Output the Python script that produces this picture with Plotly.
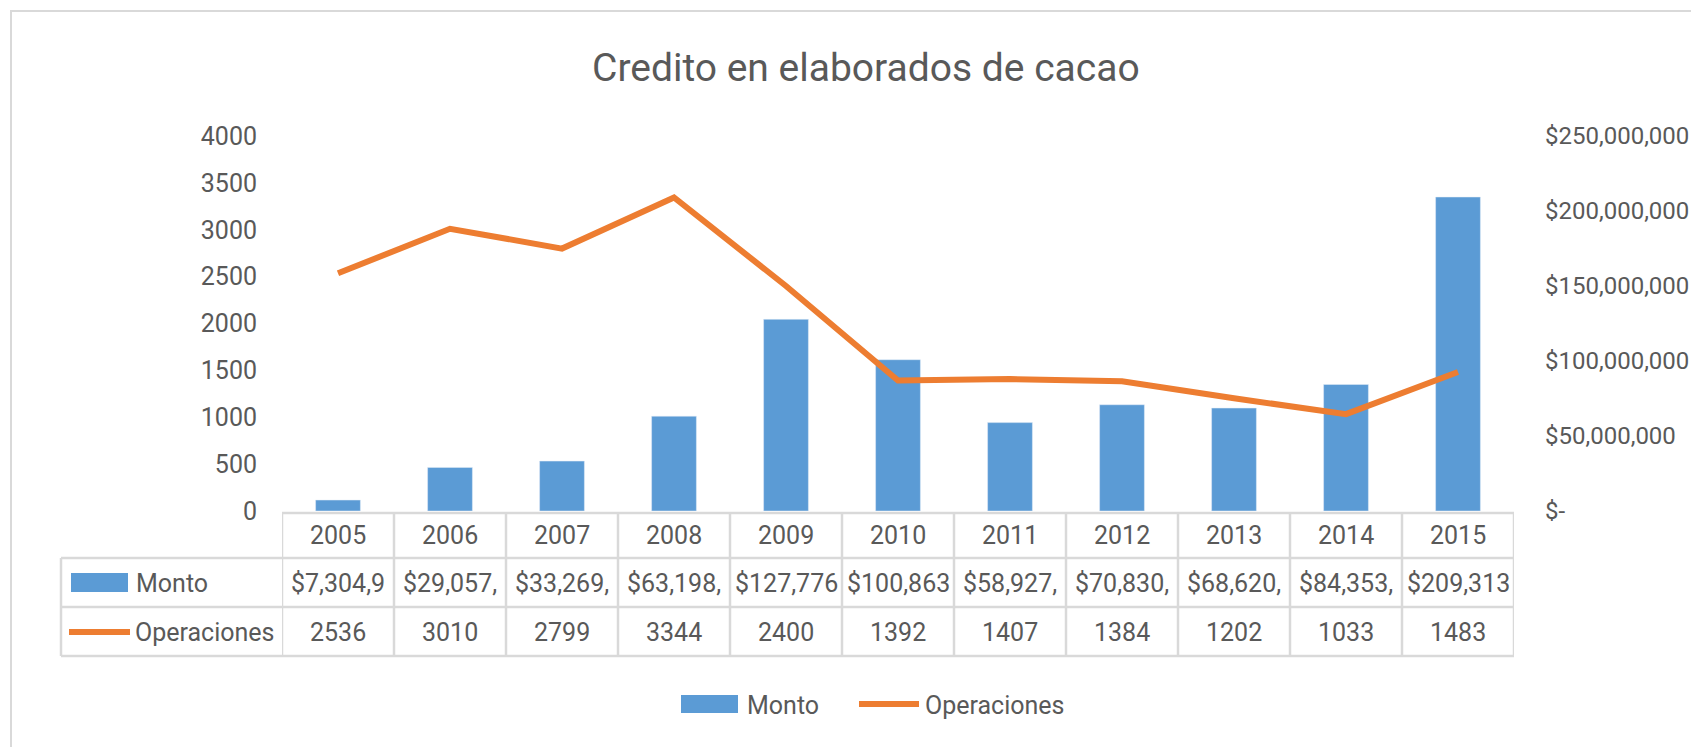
import plotly.graph_objects as go

# ---------------- data ----------------
years = ["2005", "2006", "2007", "2008", "2009", "2010", "2011", "2012", "2013", "2014", "2015"]
monto = [7304900, 29057000, 33269000, 63198000, 127776000, 100863000,
         58927000, 70830000, 68620000, 84353000, 209313000]
operaciones = [2536, 3010, 2799, 3344, 2400, 1392, 1407, 1384, 1202, 1033, 1483]
left_ticks = [0, 500, 1000, 1500, 2000, 2500, 3000, 3500, 4000]
right_ticks = [0, 50000000, 100000000, 150000000, 200000000, 250000000]
right_tick_labels = ["$-", "$50,000,000", "$100,000,000", "$150,000,000",
                     "$200,000,000", "$250,000,000"]
title = "Credito en elaborados de cacao"

# ---------------- style ----------------
OFF = 8                      # page body margin
W, H = 1699 - OFF, 747 - OFF
L, R, T, B = 282 - OFF, 1514 - OFF, 136 - OFF, 511 - OFF   # plot area (figure px)
BLUE = "#5B9BD5"
ORANGE = "#ED7D31"
TXT = "#595959"
GRID = "#D9D9D9"
FONT = "Roboto, sans-serif"
FS = 25


def px(x):
    """page x pixel -> paper coordinate"""
    return (x - OFF - L) / (R - L)


def py(y):
    """page y pixel -> paper coordinate"""
    return (B - (y - OFF)) / (B - T)


def txt(**kw):
    d = dict(showarrow=False, yanchor="middle",
             font=dict(size=FS, color=TXT, family=FONT))
    d.update(kw)
    return d


fig = go.Figure()
fig.add_trace(go.Bar(x=years, y=monto, name="Monto", marker_color=BLUE,
                     yaxis="y", showlegend=False))
fig.add_trace(go.Scatter(x=years, y=operaciones, name="Operaciones", mode="lines",
                         line=dict(color=ORANGE, width=6), yaxis="y2",
                         showlegend=False))

shapes = []
annotations = []

# chart border
shapes.append(dict(type="rect", xref="paper", yref="paper",
                   x0=px(11), x1=px(1699 + 30), y0=py(747 + 30), y1=py(11),
                   line=dict(color=GRID, width=2), layer="below"))

# data table grid
row_lines = [558, 607, 656]
shapes.append(dict(type="line", xref="paper", yref="paper",
                   x0=px(282), x1=px(1514), y0=py(513), y1=py(513),
                   line=dict(color=GRID, width=2.5)))
for yy in row_lines:
    shapes.append(dict(type="line", xref="paper", yref="paper",
                       x0=px(61), x1=px(1514), y0=py(yy), y1=py(yy),
                       line=dict(color=GRID, width=2.5)))
shapes.append(dict(type="line", xref="paper", yref="paper",
                   x0=px(61), x1=px(61), y0=py(558), y1=py(656),
                   line=dict(color=GRID, width=2.5)))
n = len(years)
for k in range(n + 1):
    shapes.append(dict(type="line", xref="x", yref="paper",
                       x0=k - 0.5, x1=k - 0.5, y0=py(513), y1=py(656),
                       line=dict(color=GRID, width=2.5)))

# data table cells
for i, yr in enumerate(years):
    annotations.append(txt(x=i, xref="x", y=py(535), yref="paper", text=yr))
    mtxt = "${:,}".format(monto[i])[:8]
    annotations.append(txt(x=i, xref="x", y=py(583), yref="paper", text=mtxt))
    annotations.append(txt(x=i, xref="x", y=py(632), yref="paper",
                           text=str(operaciones[i])))

# table row headers
shapes.append(dict(type="rect", xref="paper", yref="paper",
                   x0=px(71), x1=px(128), y0=py(592), y1=py(573),
                   fillcolor=BLUE, line=dict(width=0)))
shapes.append(dict(type="line", xref="paper", yref="paper",
                   x0=px(69), x1=px(130), y0=py(632), y1=py(632),
                   line=dict(color=ORANGE, width=6)))
annotations.append(txt(x=px(134), y=py(583), xref="paper", yref="paper", text="Monto",
                       xanchor="left"))
annotations.append(txt(x=px(133), y=py(632), xref="paper", yref="paper", text="Operaciones",
                       xanchor="left"))

# bottom legend
shapes.append(dict(type="rect", xref="paper", yref="paper",
                   x0=px(681), x1=px(738), y0=py(713), y1=py(695),
                   fillcolor=BLUE, line=dict(width=0)))
shapes.append(dict(type="line", xref="paper", yref="paper",
                   x0=px(859), x1=px(919), y0=py(704), y1=py(704),
                   line=dict(color=ORANGE, width=6)))
annotations.append(txt(x=px(745), y=py(705), xref="paper", yref="paper", text="Monto",
                       xanchor="left"))
annotations.append(txt(x=px(923), y=py(705), xref="paper", yref="paper", text="Operaciones",
                       xanchor="left"))

# title
annotations.append(txt(x=px(866), y=py(68), xref="paper", yref="paper", text=title,
                       xanchor="center",
                       font=dict(size=39, color=TXT, family=FONT)))

fig.update_layout(
    width=W, height=H,
    margin=dict(l=L, r=W - R, t=T, b=H - B, pad=0, autoexpand=False),
    paper_bgcolor="white", plot_bgcolor="white",
    bargap=0.6,
    showlegend=False,
    xaxis=dict(type="category", range=[-0.5, n - 0.5], showticklabels=False,
               showgrid=False, zeroline=False, showline=False, ticks="",
               automargin=False),
    yaxis=dict(side="right", range=[0, 250000000], tickvals=right_ticks,
               ticktext=right_tick_labels, showgrid=False, zeroline=False,
               showline=False, ticks="", ticklabelstandoff=30, automargin=False,
               tickfont=dict(size=24, color=TXT, family=FONT)),
    yaxis2=dict(side="left", overlaying="y", range=[0, 4000], tickvals=left_ticks,
                showgrid=False, zeroline=False, showline=False, ticks="",
                ticklabelstandoff=24, automargin=False,
                tickfont=dict(size=FS, color=TXT, family=FONT)),
    shapes=shapes,
    annotations=annotations,
)

fig.write_html("out.html")
